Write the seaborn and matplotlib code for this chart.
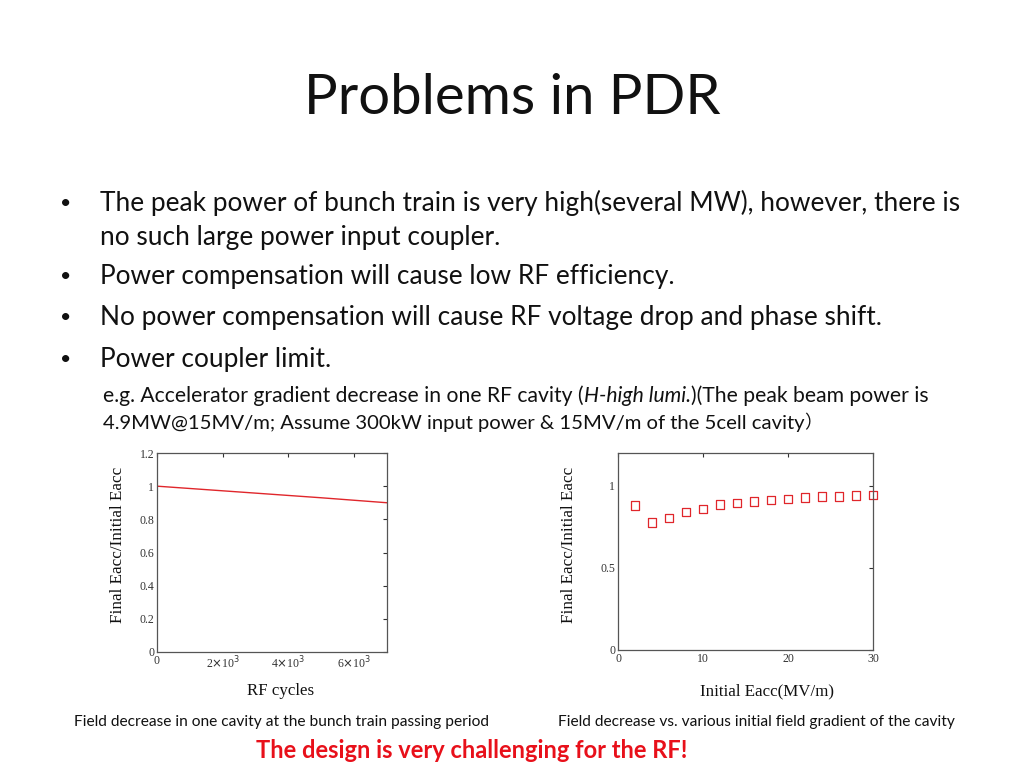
import matplotlib
matplotlib.use("Agg")
import matplotlib.pyplot as plt
import seaborn as sns
import pandas as pd
from matplotlib.ticker import FixedLocator

sns.set_theme(style="white")
plt.rcParams['font.family'] = ['Lato', 'DejaVu Sans']

# ---- data ----
rf_cycles = [0, 1000, 2000, 3000, 4000, 5000, 6000, 7000]
ratio_cycles = [1.0, 0.986, 0.972, 0.958, 0.944, 0.930, 0.915, 0.900]

init_eacc = [2, 4, 6, 8, 10, 12, 14, 16, 18, 20, 22, 24, 26, 28, 30]
ratio_eacc = [0.88, 0.775, 0.805, 0.84, 0.86, 0.885, 0.895, 0.905, 0.915,
              0.92, 0.93, 0.935, 0.935, 0.94, 0.945]

left_xticks = [0, 2000, 4000, 6000]
left_xticklabels = ["0", r"2$\times$10$^3$", r"4$\times$10$^3$", r"6$\times$10$^3$"]
left_yticks = [0, 0.2, 0.4, 0.6, 0.8, 1.0, 1.2]
left_yticklabels = ["0", "0.2", "0.4", "0.6", "0.8", "1", "1.2"]
right_xticks = [0, 10, 20, 30]
right_yticks = [0, 0.5, 1.0]
right_yticklabels = ["0", "0.5", "1"]

title = "Problems in PDR"
bullets = [
    ["The peak power of bunch train is very high(several MW), however, there is",
     "no such large power input coupler."],
    ["Power compensation will cause low RF efficiency."],
    ["No power compensation will cause RF voltage drop and phase shift."],
    ["Power coupler limit."],
]
caption_left = "Field decrease in one cavity at the bunch train passing period"
caption_right = "Field decrease vs. various initial field gradient of the cavity"
conclusion = "The design is very challenging for the RF!"

W, H = 1024, 768
fig = plt.figure(figsize=(W / 100, H / 100), dpi=100)
fig.patch.set_facecolor("white")
renderer = fig.canvas.get_renderer()

def px(x, y):
    return x / W, 1 - y / H

# title
fig.text(*px(512, 98), title, ha="center", va="center", fontsize=40.5, color="#111111")

# bullets
bullet_y = [(203, 237), (277,), (318,), (359,)]
for lines, ys in zip(bullets, bullet_y):
    fig.text(*px(60, ys[0]), "•", ha="left", va="center", fontsize=14, color="#111111")
    for line, y in zip(lines, ys):
        fig.text(*px(100, y), line, ha="left", va="center", fontsize=18.9, color="#111111")

# sub-text with italic part
segs = [("e.g. Accelerator gradient decrease in one RF cavity (", "normal"),
        ("H-high lumi.", "italic"),
        (")(The peak beam power is", "normal")]
x0 = 103 / W
for s, st in segs:
    t = fig.text(x0, 1 - 396 / H, s, ha="left", va="center", fontsize=15.2,
                 style=st, color="#111111")
    bb = t.get_window_extent(renderer=renderer)
    x0 = bb.x1 / W
t = fig.text(*px(103, 423), "4.9MW@15MV/m; Assume 300kW input power & 15MV/m of the 5cell cavity",
             ha="left", va="center", fontsize=14.6, color="#111111")
bb = t.get_window_extent(renderer=renderer)
fig.text(bb.x1 / W, 1 - 423 / H, "）", ha="left", va="center", fontsize=13, color="#111111",
         family=["Noto Sans CJK SC", "DejaVu Sans"])

serif = ["Liberation Serif", "DejaVu Serif"]

# left chart
ax1 = fig.add_axes([157 / W, 1 - 652 / H, 230 / W, 199 / H])
df1 = pd.DataFrame({"cycles": rf_cycles, "ratio": ratio_cycles})
sns.lineplot(data=df1, x="cycles", y="ratio", ax=ax1, color="#e0262b", lw=1.0)
ax1.set_xlim(0, 7000)
ax1.set_ylim(0, 1.2)
ax1.xaxis.set_major_locator(FixedLocator(left_xticks))
ax1.set_xticklabels(left_xticklabels, family=serif, fontsize=8.5)
ax1.yaxis.set_major_locator(FixedLocator(left_yticks))
ax1.set_yticklabels(left_yticklabels, family=serif, fontsize=8.5)
ax1.set_xlabel("")
ax1.set_ylabel("")

# right chart
ax2 = fig.add_axes([618 / W, 1 - 650 / H, 255 / W, 197 / H])
df2 = pd.DataFrame({"eacc": init_eacc, "ratio": ratio_eacc})
sns.scatterplot(data=df2, x="eacc", y="ratio", ax=ax2, marker="s", s=38,
                facecolor="none", edgecolor="#e0262b", linewidth=0.9, clip_on=False)
ax2.set_xlim(0, 30)
ax2.set_ylim(0, 1.2)
ax2.xaxis.set_major_locator(FixedLocator(right_xticks))
ax2.set_xticklabels([str(v) for v in right_xticks], family=serif, fontsize=8.5)
ax2.yaxis.set_major_locator(FixedLocator(right_yticks))
ax2.set_yticklabels(right_yticklabels, family=serif, fontsize=8.5)
ax2.set_xlabel("")
ax2.set_ylabel("")

for ax in (ax1, ax2):
    for sp in ax.spines.values():
        sp.set_color("#555555")
        sp.set_linewidth(0.9)
    ax.tick_params(axis="both", which="both", direction="in", length=3,
                   width=0.8, color="#333333", top=True, right=True,
                   labelcolor="#333333", pad=2)

# axis labels
fig.text(*px(118, 545), "Final Eacc/Initial Eacc", rotation=90, ha="center",
         va="center", fontsize=12.3, family=serif, color="#111111")
fig.text(*px(569, 545), "Final Eacc/Initial Eacc", rotation=90, ha="center",
         va="center", fontsize=12.3, family=serif, color="#111111")
fig.text(*px(281, 691), "RF cycles", ha="center", va="center", fontsize=12.2,
         family=serif, color="#111111")
fig.text(*px(767, 691), "Initial Eacc(MV/m)", ha="center", va="center",
         fontsize=12.2, family=serif, color="#111111")

# captions
fig.text(*px(281, 722), caption_left, ha="center", va="center", fontsize=11.2,
         color="#111111")
fig.text(*px(756, 722), caption_right, ha="center", va="center", fontsize=11.2,
         color="#111111")
fig.text(*px(472, 751), conclusion, ha="center", va="center", fontsize=17,
         fontweight="bold", color="#e8101a")

fig.savefig("out.png", dpi=100, facecolor="white")
